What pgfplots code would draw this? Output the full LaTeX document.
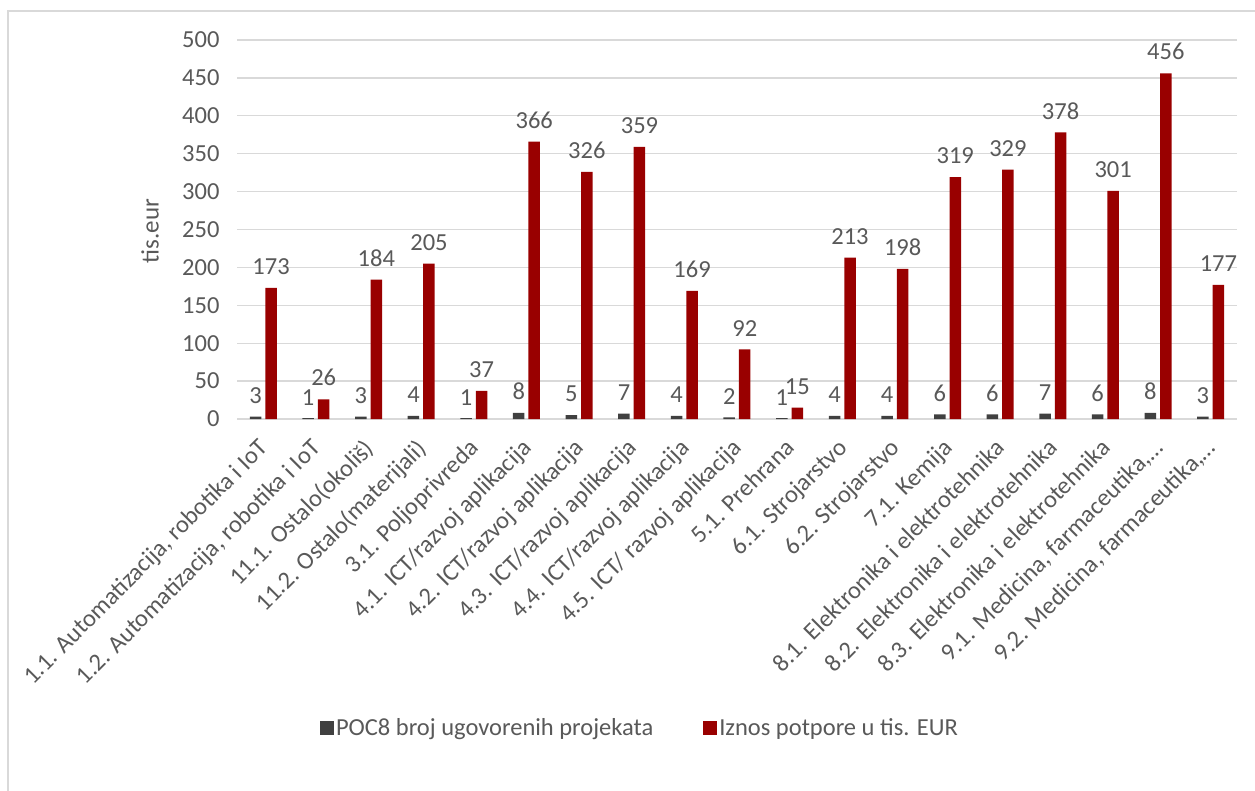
\documentclass[border=0pt]{standalone}
\usepackage{fontspec}
\setmainfont{Carlito}
\usepackage{pgfplots}
\pgfplotsset{compat=1.18}
\definecolor{gridgrey}{HTML}{D9D9D9}
\definecolor{txtgrey}{HTML}{595959}
\definecolor{bargrey}{HTML}{404040}
\definecolor{barred}{HTML}{990000}
\begin{document}
\begin{tikzpicture}[x=1pt,y=1pt]
\path[use as bounding box] (0,0) rectangle (1255,-791);
\draw[gridgrey, line width=1.5pt] (8,-791) -- (8,-11) -- (1255,-11);
\begin{axis}[
  at={(237pt,-419pt)}, anchor=south west,
  width=1000pt, height=379pt, scale only axis,
  ymin=0, ymax=500, ytick distance=50,
  xmin=-0.5, xmax=18.5,
  xtick={0,...,18},
  xticklabels={{1.1. Automatizacija, robotika i IoT},{1.2. Automatizacija, robotika i IoT},{11.1. Ostalo(okoliš)},{11.2. Ostalo(materijali)},{3.1. Poljoprivreda},{4.1. ICT/razvoj aplikacija},{4.2. ICT/razvoj aplikacija},{4.3. ICT/razvoj aplikacija},{4.4. ICT/razvoj aplikacija},{4.5. ICT/ razvoj aplikacija},{5.1. Prehrana},{6.1. Strojarstvo},{6.2. Strojarstvo},{7.1. Kemija},{8.1. Elektronika i elektrotehnika},{8.2. Elektronika i elektrotehnika},{8.3. Elektronika i elektrotehnika},{9.1. Medicina, farmaceutika,…},{9.2. Medicina, farmaceutika,…}},
  ybar=4pt, bar width=11.5pt,
  axis line style={draw=none},
  major tick length=0pt,
  ymajorgrids, grid style={gridgrey, line width=1.3pt},
  tick label style={font=\fontsize{24.5}{28}\selectfont, text=txtgrey},
  /pgf/number format/assume math mode=true,
  yticklabel style={xshift=-14pt},
  xticklabel style={xshift=-6pt, yshift=-18pt, rotate=45, anchor=north east, inner sep=0pt},
  ylabel={tis.eur},
  ylabel style={at={(axis description cs:-0.087,0.496)}, anchor=center, rotate=0, font=\fontsize{25}{29}\selectfont, text=txtgrey},
  nodes near coords,
  nodes near coords style={font=\fontsize{24.5}{28}\selectfont, text=txtgrey, anchor=south, inner sep=0pt, yshift=13pt},
  legend style={at={(0.403,-0.815)}, anchor=center, draw=none, legend columns=2,
    font=\fontsize{24.5}{28}\selectfont, text=txtgrey,
    /tikz/every even column/.append style={column sep=48pt}},
  legend image code/.code={\fill[#1] (-3pt,-7pt) rectangle (11pt,7pt);},
]
\addplot[fill=bargrey, draw=none] coordinates {
(0,3) (1,1) (2,3) (3,4) (4,1) (5,8) (6,5) (7,7) (8,4) (9,2) (10,1) (11,4) (12,4) (13,6) (14,6) (15,7) (16,6) (17,8) (18,3)};
\addplot[fill=barred, draw=none] coordinates {
(0,173) (1,26) (2,184) (3,205) (4,37) (5,366) (6,326) (7,359) (8,169) (9,92) (10,15) (11,213) (12,198) (13,319) (14,329) (15,378) (16,301) (17,456) (18,177)};
\legend{POC8 broj ugovorenih projekata, Iznos potpore u tis. EUR}
\end{axis}
\end{tikzpicture}
\end{document}
